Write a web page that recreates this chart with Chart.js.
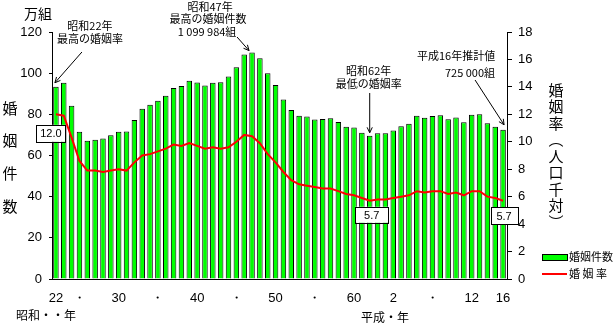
<!DOCTYPE html>
<html>
<head>
<meta charset="utf-8">
<title>婚姻件数及び婚姻率の年次推移</title>
<script src="https://cdn.jsdelivr.net/npm/chart.js"></script>
<style>
  body { margin: 0; background: #fff; }
  canvas { display: block; }
</style>
</head>
<body>
<canvas id="marriage" width="616" height="327"></canvas>
<script>
// 昭和22年(1947) ～ 平成16年(2004)
var years = [1947,1948,1949,1950,1951,1952,1953,1954,1955,1956,1957,1958,1959,1960,1961,1962,1963,1964,1965,1966,
             1967,1968,1969,1970,1971,1972,1973,1974,1975,1976,1977,1978,1979,1980,1981,1982,1983,1984,1985,1986,
             1987,1988,1989,1990,1991,1992,1993,1994,1995,1996,1997,1998,1999,2000,2001,2002,2003,2004];

// x tick labels (only some years are labelled)
var tickLabels = ['22','','','・','','','','','30','','','','','・','','','','','40','','','','','・','','','','','50','',
                  '','','','・','','','','','60','','','','','2','','','','','・','','','','','12','','','','16'];

// 婚姻件数 (万組)
var marriages = [93.4,95.4,84.2,71.5,67.2,67.7,68.2,69.8,71.5,71.6,77.3,82.7,84.7,86.6,89.0,92.8,93.8,96.3,95.5,94.0,
                 95.3,95.6,98.4,102.9,109.1,110.0,107.2,100.0,94.2,87.2,82.1,79.3,78.9,77.5,77.7,78.1,76.3,74.0,73.6,71.1,
                 69.6,70.8,70.8,72.2,74.2,75.4,79.3,78.3,79.2,79.5,77.6,78.5,76.2,79.8,80.0,75.7,74.0,72.5];

// 婚姻率 (人口千対)
var rates = [12.0,11.9,10.3,8.6,7.9,7.9,7.8,7.9,8.0,7.9,8.5,9.0,9.1,9.3,9.5,9.8,9.7,9.9,9.7,9.5,
             9.6,9.5,9.6,10.0,10.5,10.4,9.9,9.1,8.5,7.8,7.2,6.9,6.8,6.7,6.6,6.6,6.4,6.2,6.1,5.9,
             5.7,5.8,5.8,5.9,6.0,6.1,6.4,6.3,6.4,6.4,6.2,6.3,6.1,6.4,6.4,6.0,5.9,5.7];

var jp = '"Noto Sans CJK JP", sans-serif';
Chart.defaults.font.family = '"Liberation Sans", Arial, sans-serif';
Chart.defaults.color = '#000';

function arrow(ctx, x1, y1, x2, y2) {
    var a = Math.atan2(y2 - y1, x2 - x1), h = 6;
    ctx.beginPath();
    ctx.moveTo(x1, y1);
    ctx.lineTo(x2, y2);
    ctx.moveTo(x2 - h * Math.cos(a - 0.45), y2 - h * Math.sin(a - 0.45));
    ctx.lineTo(x2, y2);
    ctx.lineTo(x2 - h * Math.cos(a + 0.45), y2 - h * Math.sin(a + 0.45));
    ctx.stroke();
}

function valueBox(ctx, cx, cy, w, h, txt) {
    ctx.fillStyle = '#fff';
    ctx.fillRect(cx - w / 2, cy - h / 2, w, h);
    ctx.strokeStyle = '#000';
    ctx.lineWidth = 1;
    ctx.strokeRect(Math.round(cx - w / 2) + 0.5, Math.round(cy - h / 2) + 0.5, w, h);
    ctx.fillStyle = '#000';
    ctx.font = '11px "Liberation Sans", Arial, sans-serif';
    ctx.textAlign = 'center';
    ctx.textBaseline = 'middle';
    ctx.fillText(txt, cx, cy + 1);
}

function vertText(ctx, chars, x, y0, step) {
    ctx.textAlign = 'center';
    ctx.textBaseline = 'middle';
    for (var i = 0; i < chars.length; i++) {
        ctx.fillText(chars[i], x, y0 + i * step);
    }
}

// titles, notes, arrows, value boxes and legend
var notes = {
    id: 'notes',
    afterDatasetsDraw: function(chart) {
        var ctx = chart.ctx, x = chart.scales.x, y = chart.scales.y, y1 = chart.scales.y1;
        var last = years.length - 1;
        var i47 = years.indexOf(1972), i62 = years.indexOf(1987);
        ctx.save();
        ctx.fillStyle = '#000';
        ctx.strokeStyle = '#000';
        ctx.lineWidth = 1;

        // axis titles
        ctx.font = '14px ' + jp;
        ctx.textAlign = 'left';
        ctx.textBaseline = 'middle';
        ctx.fillText('万組', 24, 14);
        ctx.font = '15px ' + jp;
        vertText(ctx, ['婚', '姻', '件', '数'], 10, 108, 32.7);
        vertText(ctx, ['婚', '姻', '率', '︵', '人', '口', '千', '対', '︶'], 556, 90, 16.5);

        ctx.font = '12px ' + jp;
        ctx.textAlign = 'left';
        ctx.fillText('昭和・・年', 16, 315);
        ctx.fillText('平成・年', 361, 317);

        // notes
        ctx.font = '11px ' + jp;
        ctx.textAlign = 'center';
        var px = x.getPixelForValue(0), py = y.getPixelForValue(marriages[0]);
        ctx.fillText('昭和22年', px + 34, 26);
        ctx.fillText('最高の婚姻率', px + 34, 39);
        arrow(ctx, px + 26, 52, px - 1, py - 4);

        px = x.getPixelForValue(i47); py = y.getPixelForValue(marriages[i47]);
        ctx.fillText('昭和47年', px - 42, 7);
        ctx.fillText('最高の婚姻件数', px - 44, 19);
        ctx.fillText('1 099 984組', px - 45, 32);
        arrow(ctx, px - 15, 37, px - 3, py - 2);

        px = x.getPixelForValue(i62); py = y.getPixelForValue(marriages[i62]);
        ctx.fillText('昭和62年', px - 1, 71);
        ctx.fillText('最低の婚姻率', px - 1, 84);
        arrow(ctx, px, 93, px, py - 3);

        px = x.getPixelForValue(last); py = y.getPixelForValue(marriages[last]);
        ctx.fillText('平成16年推計値', px - 47, 56);
        ctx.textAlign = 'right';
        ctx.fillText('725 000組', px - 8, 73);
        arrow(ctx, px - 28, 80, px + 1, py - 5);

        // value boxes
        valueBox(ctx, x.getPixelForValue(0) - 5, y1.getPixelForValue(rates[0]) + 19, 29, 17, '12.0');
        valueBox(ctx, x.getPixelForValue(i62) + 2, y1.getPixelForValue(rates[i62]) + 14, 33, 16, '5.7');
        valueBox(ctx, x.getPixelForValue(last) + 1, y1.getPixelForValue(rates[last]) + 15, 27, 17, '5.7');

        // legend
        ctx.fillStyle = '#00ff00';
        ctx.fillRect(542, 254, 25, 6);
        ctx.strokeRect(542.5, 254.5, 25, 6);
        ctx.strokeStyle = '#ff0000';
        ctx.lineWidth = 2;
        ctx.beginPath();
        ctx.moveTo(542, 274);
        ctx.lineTo(567, 274);
        ctx.stroke();
        ctx.fillStyle = '#000';
        ctx.font = '11px ' + jp;
        ctx.textAlign = 'left';
        ctx.fillText('婚姻件数', 569, 257);
        ctx.fillText('婚 姻 率', 569, 274);
        ctx.restore();
    }
};

var ctx = document.getElementById('marriage').getContext('2d');
var marriageChart = new Chart(ctx, {
    type: 'bar',
    data: {
        labels: years,
        datasets: [
            {
                type: 'line',
                label: '婚姻率',
                data: rates,
                yAxisID: 'y1',
                borderColor: '#ff0000',
                borderWidth: 2,
                pointRadius: 0,
                tension: 0,
                order: 0
            },
            {
                label: '婚姻件数',
                data: marriages,
                yAxisID: 'y',
                backgroundColor: '#00ff00',
                borderColor: '#000',
                borderWidth: 1,
                barPercentage: 0.7,
                categoryPercentage: 1,
                order: 1
            }
        ]
    },
    options: {
        responsive: false,
        animation: false,
        layout: { padding: { top: 32, left: 0, right: 0, bottom: 0 } },
        plugins: {
            legend: { display: false },
            tooltip: { enabled: false }
        },
        scales: {
            x: {
                grid: { display: false, drawTicks: false },
                border: { display: true, color: '#000', width: 1 },
                ticks: {
                    autoSkip: false,
                    maxRotation: 0,
                    padding: 12,
                    font: { size: 13 },
                    callback: function(v, i) { return tickLabels[i]; }
                },
                afterFit: function(s) { s.height = 48; }
            },
            y: {
                position: 'left',
                min: 0,
                max: 120,
                ticks: { stepSize: 20, padding: 7, font: { size: 13 } },
                grid: { drawOnChartArea: false, tickLength: 3, color: '#000' },
                border: { color: '#000' },
                afterFit: function(s) { s.width = 52; }
            },
            y1: {
                position: 'right',
                min: 0,
                max: 18,
                ticks: { stepSize: 2, padding: 6, font: { size: 13 } },
                grid: { drawOnChartArea: false, tickLength: 5, color: '#000' },
                border: { color: '#000' },
                afterFit: function(s) { s.width = 109; }
            }
        }
    },
    plugins: [notes]
});
</script>
</body>
</html>
